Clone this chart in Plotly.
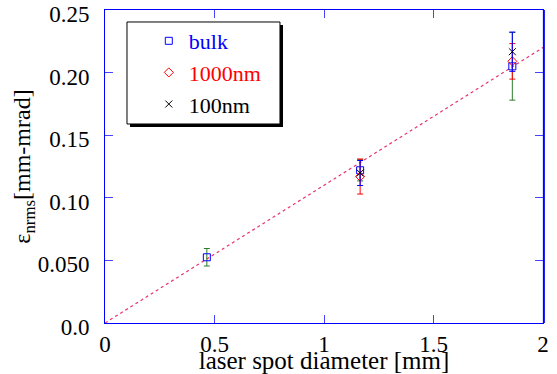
import plotly.graph_objects as go

# Data
x_vals = [0.465, 1.165, 1.86]
bulk_y = [0.0525, 0.1220, 0.2050]
bulk_err = [0.0070, 0.0085, 0.0270]
nm1000_x = [1.165, 1.86]
nm1000_y = [0.1170, 0.2090]
nm1000_err = [0.0140, 0.0142]
nm100_x = [1.165, 1.86]
nm100_y = [0.1198, 0.2167]
nm100_err = [0.0100, 0.0157]
fit_x = [0.0, 2.0]
fit_slope = 0.11

y_ticks = [0, 0.05, 0.10, 0.15, 0.20, 0.25]
y_ticktext = ["0.0", "0.050", "0.10", "0.15", "0.20", "0.25"]
x_ticks = [0, 0.5, 1, 1.5, 2]
x_ticktext = ["0", "0.5", "1", "1.5", "2"]

FONT = "Liberation Serif"

fig = go.Figure()

fig.add_trace(go.Scatter(
    x=fit_x, y=[fit_slope * v for v in fit_x], mode="lines",
    line=dict(color="#e8336e", width=1.2, dash="dot"),
    showlegend=False, hoverinfo="skip"))

fig.add_trace(go.Scatter(
    x=x_vals, y=bulk_y, mode="markers",
    name="<span style='color:blue'>bulk</span>",
    marker=dict(symbol="square-open", color="blue", size=7, line=dict(width=1)),
    error_y=dict(type="data", array=bulk_err, color="#2e7d2e", thickness=1, width=3)))

fig.add_trace(go.Scatter(
    x=nm1000_x, y=nm1000_y, mode="markers",
    name="<span style='color:red'>1000nm</span>",
    marker=dict(symbol="diamond-open", color="red", size=7, line=dict(width=1)),
    error_y=dict(type="data", array=nm1000_err, color="red", thickness=1, width=3)))

fig.add_trace(go.Scatter(
    x=nm100_x, y=nm100_y, mode="markers",
    name="<span style='color:black'>100nm</span>",
    marker=dict(symbol="x-thin-open", color="black", size=7, line=dict(width=1, color="black")),
    error_y=dict(type="data", array=nm100_err, color="blue", thickness=1, width=3)))

axis_common = dict(
    showline=True, linecolor="blue", linewidth=1, mirror="ticks",
    ticks="inside", ticklen=8, tickcolor="#4444ff", tickwidth=1,
    showgrid=False, zeroline=False, automargin=False,
    ticklabeloverflow="allow",
    tickfont=dict(family=FONT, size=23, color="black"),
)

fig.update_xaxes(
    range=[0, 2], tickvals=x_ticks, ticktext=x_ticktext,
    title=dict(text="laser spot diameter [mm]", font=dict(family=FONT, size=25, color="black"), standoff=0),
    ticklabelstandoff=0,
    **axis_common)
fig.update_yaxes(
    range=[0, 0.25], tickvals=y_ticks, ticktext=y_ticktext,
    title=dict(text="ε<sub>nrms</sub>[mm-mrad]", font=dict(family=FONT, size=24, color="black"), standoff=0),
    ticklabelstandoff=10, ticklabelshift=4,
    **axis_common)

# legend frame with shadow
fig.add_shape(type="rect", xref="paper", yref="paper",
              x0=0.0571, x1=0.4064, y0=0.626, y1=0.952,
              fillcolor="black", line=dict(width=0), layer="above")
fig.add_shape(type="rect", xref="paper", yref="paper",
              x0=0.0502, x1=0.3995, y0=0.6358, y1=0.9617,
              fillcolor="white", line=dict(width=1, color="black"), layer="above")
# thicker right frame edge
fig.add_shape(type="line", xref="paper", yref="paper",
              x0=1.002, x1=1.002, y0=0, y1=1,
              line=dict(width=2, color="blue"), layer="above")

fig.update_layout(
    width=557, height=374,
    margin=dict(l=105, r=14, t=10, b=51),
    paper_bgcolor="white", plot_bgcolor="white",
    font=dict(family=FONT, size=24, color="black"),
    legend=dict(x=0.1, y=0.968, xanchor="left", yanchor="top",
                bgcolor="rgba(0,0,0,0)", borderwidth=0,
                font=dict(family=FONT, size=22), itemwidth=30,
                tracegroupgap=0),
    showlegend=True,
)

fig.write_html("out.html", config={"displayModeBar": False},
               post_script="document.body.style.margin='0';")
